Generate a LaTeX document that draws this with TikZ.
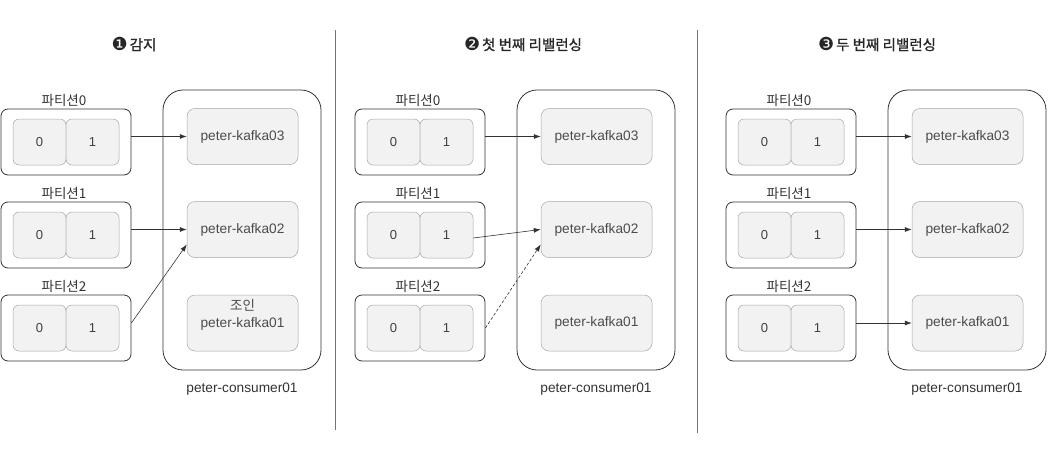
\documentclass[tikz,border=0pt]{standalone}
\usepackage{fontspec}
\setmainfont{Liberation Sans}
\newfontfamily\kr{Noto Sans CJK KR}
\newfontfamily\krb[FakeBold=1.2]{Noto Sans CJK KR}
\newfontfamily\dv{DejaVu Sans}
\newcommand{\circnum}[1]{{\dv\fontsize{18}{18}\selectfont #1}\hspace{2pt}}
\usetikzlibrary{arrows.meta}
\tikzset{
  outerbox/.style={draw=black!80, line width=0.8pt, rounded corners=7pt, minimum width=130pt, minimum height=66pt, inner sep=0pt},
  cellbox/.style={draw=black!35, fill=black!5, line width=0.5pt, rounded corners=6pt, minimum width=53pt, minimum height=46pt, inner sep=0pt, text=black!75, font=\fontsize{13}{15}\selectfont},
  kbox/.style={draw=black!35, fill=black!5, line width=0.5pt, rounded corners=8pt, minimum width=111pt, minimum height=56pt, inner sep=0pt, text=black!70, font=\fontsize{13.7}{16}\selectfont},
  consbox/.style={draw=black!80, line width=0.8pt, rounded corners=20pt, minimum width=158pt, minimum height=280pt, inner sep=0pt},
  plabel/.style={text=black!80, font=\kr\fontsize{13.5}{15}\selectfont, inner sep=0pt},
  clabel/.style={text=black!80, font=\fontsize{13.7}{16}\selectfont, inner sep=0pt},
  ttl/.style={text=black!85, font=\krb\fontsize{14.5}{16}\selectfont, inner sep=0pt},
  arr/.style={-{Latex[length=7pt,width=5pt]}, draw=black!80, line width=0.6pt},
  divline/.style={draw=black!55, line width=0.6pt}
}
\begin{document}
\begin{tikzpicture}[x=1pt,y=-1pt]
\useasboundingbox (0,0) rectangle (1059,450);
% titles
\node[ttl] (t1) at (134,44) {\circnum{❶}감지};
\node[ttl] (t2) at (523,44) {\circnum{❷}첫 번째 리밸런싱};
\node[ttl] (t3) at (877,44) {\circnum{❸}두 번째 리밸런싱};
% dividers
\coordinate (d1a) at (335,30); \coordinate (d1b) at (335,430);
\coordinate (d2a) at (697,30); \coordinate (d2b) at (697,433);
\draw[divline] (d1a) -- (d1b);
\draw[divline] (d2a) -- (d2b);
% panels
\foreach \i/\ox in {1/1,2/355,3/726}{
  \foreach \r/\yy in {0/142,1/235,2/328}{
    \node[plabel] (l\i-\r) at (\ox+63,\yy-42) {파티션\r};
    \node[outerbox] (pb\i-\r) at (\ox+65,\yy) {};
    \node[cellbox] (c\i-\r-0) at (\ox+38.5,\yy) {0};
    \node[cellbox] (c\i-\r-1) at (\ox+91.5,\yy) {1};
  }
  \node[consbox] (cons\i) at (\ox+241,230) {};
  \node[kbox] (k\i-3) at (\ox+241.5,136.5) {peter-kafka03};
  \node[kbox] (k\i-2) at (\ox+241.5,229.5) {peter-kafka02};
  \node[clabel] (cl\i) at (\ox+241,389) {peter-consumer01};
}
\node[kbox] (k1-1) at (242.5,323) {};
\node[kbox,fill=none,draw=none] (k1-1t) at (242.5,324) {peter-kafka01};
\node[plabel,text=black!70] (j1) at (242.5,305) {조인};
\node[kbox] (k2-1) at (596.5,323) {peter-kafka01};
\node[kbox] (k3-1) at (967.5,323) {peter-kafka01};
% arrows panel 1
\draw[arr] (pb1-0.east |- k1-3.west) -- (k1-3.west);
\draw[arr] (pb1-1.east |- k1-2.west) -- (k1-2.west);
\draw[arr] (pb1-2.east |- k1-1.west) -- ([yshift=-15pt]k1-2.west);
% arrows panel 2
\draw[arr] (pb2-0.east |- k2-3.west) -- (k2-3.west);
\draw[arr] ([yshift=-3pt]c2-1-1.east) -- (k2-2.west);
\draw[arr,densely dashed] (pb2-2.east) -- ([yshift=-15pt]k2-2.west);
% arrows panel 3
\draw[arr] (pb3-0.east |- k3-3.west) -- (k3-3.west);
\draw[arr] (pb3-1.east |- k3-2.west) -- (k3-2.west);
\draw[arr] (pb3-2.east |- k3-1.west) -- (k3-1.west);
\end{tikzpicture}
\end{document}
